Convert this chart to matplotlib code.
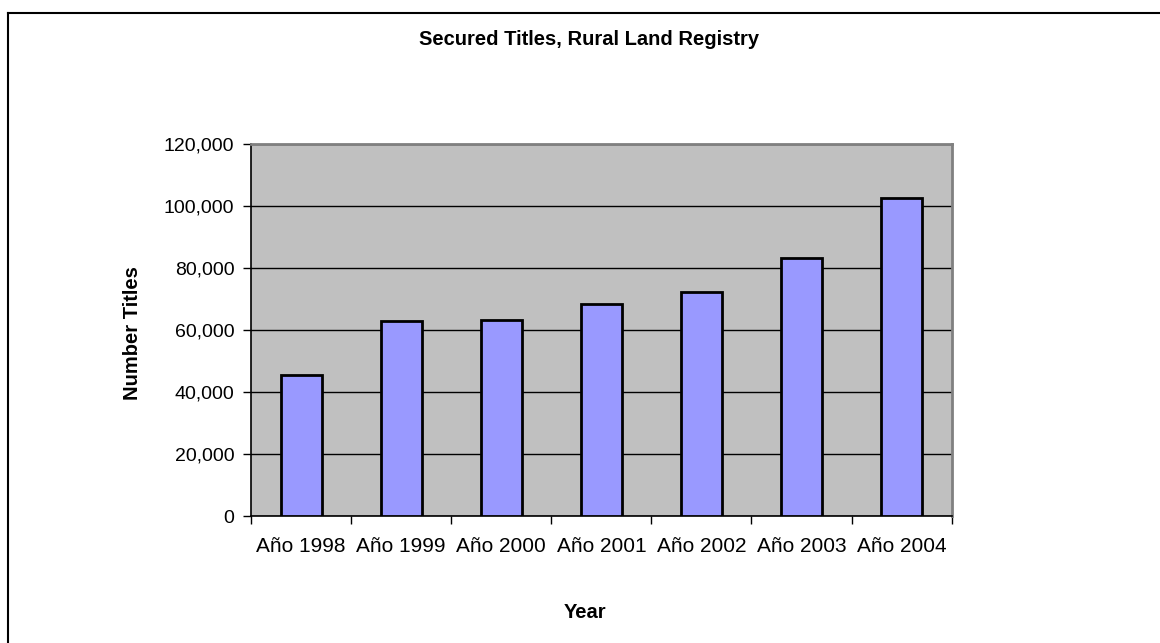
import matplotlib
matplotlib.use("Agg")
import matplotlib.pyplot as plt
from matplotlib.lines import Line2D
from matplotlib.ticker import FuncFormatter
import numpy as np

# data
years = ["Año 1998", "Año 1999", "Año 2000", "Año 2001", "Año 2002", "Año 2003", "Año 2004"]
titles = [45500, 63000, 63200, 68500, 72300, 83400, 102700]
yticks = [0, 20000, 40000, 60000, 80000, 100000, 120000]

plt.rcParams['font.family'] = ['Liberation Sans', 'DejaVu Sans']

fig = plt.figure(figsize=(11.6, 6.43), dpi=100)
ax = fig.add_axes([0.2164, 0.1975, 0.604, 0.5778])
ax.set_facecolor("#C0C0C0")

x = np.arange(len(years))
ax.bar(x, titles, width=0.41, color="#9999FF", edgecolor="black", linewidth=2, zorder=3)

ax.set_xlim(-0.5, len(years) - 0.5)
ax.set_ylim(0, 120000)
ax.set_yticks(yticks)
ax.yaxis.set_major_formatter(FuncFormatter(lambda v, p: f"{int(v):,}"))
ax.yaxis.grid(True, color="black", linewidth=1, zorder=1)

# category ticks at boundaries, labels centred
ax.set_xticks(np.arange(len(years) + 1) - 0.5)
ax.set_xticklabels([])
ax.set_xticks(x, minor=True)
ax.set_xticklabels(years, minor=True)
ax.tick_params(axis="x", which="minor", length=0, pad=15, labelsize=15)
ax.tick_params(axis="x", which="major", length=6, width=1, direction="out")
ax.tick_params(axis="y", length=6, width=1, direction="out", pad=6, labelsize=14)

for s in ["top", "right"]:
    ax.spines[s].set_color("#808080")
    ax.spines[s].set_linewidth(2)
for s in ["left", "bottom"]:
    ax.spines[s].set_color("black")
    ax.spines[s].set_linewidth(1.2)

fig.text(0.508, 0.938, "Secured Titles, Rural Land Registry", ha="center", va="center",
         fontsize=14.5, fontweight="bold")
fig.text(0.504, 0.048, "Year", ha="center", va="center", fontsize=14.5, fontweight="bold")
fig.text(0.114, 0.482, "Number Titles", ha="center", va="center", rotation=90,
         fontsize=14.5, fontweight="bold")

# chart border (only top and left visible in the crop)
fig.add_artist(Line2D([8 / 1160, 8 / 1160], [0, 1 - 13 / 643], transform=fig.transFigure,
                      color="black", linewidth=1.5))
fig.add_artist(Line2D([8 / 1160, 1], [1 - 13 / 643, 1 - 13 / 643], transform=fig.transFigure,
                      color="black", linewidth=1.5))

fig.savefig("out.png", dpi=100)
